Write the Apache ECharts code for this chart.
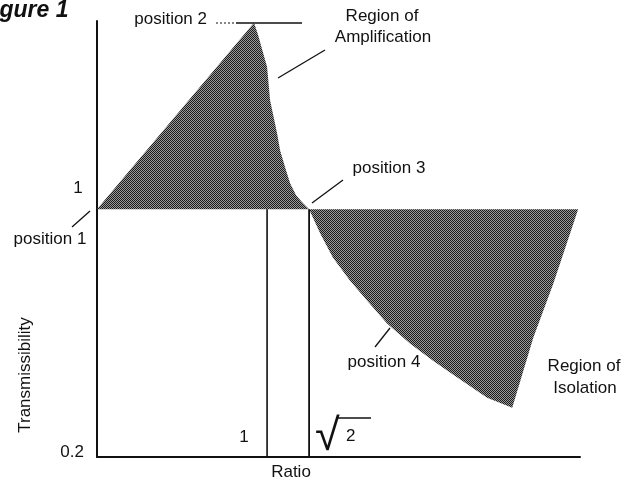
<!DOCTYPE html>
<html>
<head>
<meta charset="utf-8">
<script src="https://cdn.jsdelivr.net/npm/echarts@6/dist/echarts.min.js"></script>
<style>html,body{margin:0;padding:0;background:#fff}#c{width:638px;height:478px}</style>
</head>
<body>
<div id="c"></div>
<script>
// ---- data (log ratio vs log transmissibility) ----
const X_TICKS = [1, 1.414];
const X_TICK_LABELS = ['1', '√2'];
const Y_TICKS = [0.2, 1];
const Y_TICK_LABELS = ['0.2', '1'];
const X_RANGE = [0.246, 13.2];
const Y_RANGE = [0.2, 3.4];
const AMPLIFICATION = [
  [0.246, 1], [0.898, 3.36], [0.928, 3.11], [1.0, 2.52], [1.025, 2.03],
  [1.086, 1.64], [1.113, 1.469], [1.160, 1.315], [1.209, 1.185],
  [1.270, 1.095], [1.335, 1.047], [1.391, 1.013], [1.414, 1]
];
const ISOLATION = [
  [1.414, 1], [13.0, 1], [10.59, 0.617], [8.98, 0.434], [7.55, 0.2753],
  [6.14, 0.294], [4.80, 0.335], [3.93, 0.374], [3.25, 0.418], [2.69, 0.476],
  [2.28, 0.553], [1.98, 0.630], [1.72, 0.731], [1.55, 0.855]
];

// halftone pattern
const pc = document.createElement('canvas');
pc.width = 2; pc.height = 2;
const pctx = pc.getContext('2d');
pctx.fillStyle = '#9a9a9a'; pctx.fillRect(0, 0, 2, 2);
pctx.fillStyle = '#1c1c1c'; pctx.fillRect(0, 0, 1, 1); pctx.fillRect(1, 1, 1, 1);
const pattern = { image: pc, repeat: 'repeat' };

function polygonSeries(points) {
  return {
    type: 'custom',
    data: points,
    silent: true,
    renderItem: function (params, api) {
      if (params.dataIndex !== 0) return null;
      return {
        type: 'polygon',
        shape: { points: points.map(p => api.coord(p)) },
        style: { fill: pattern, stroke: null }
      };
    },
    z: 1
  };
}

const FAMILY = '"Liberation Sans", Arial, sans-serif';
const FONT = '17px ' + FAMILY;
function txt(text, x, y, align, valign, extra, styleExtra) {
  const el = Object.assign({
    type: 'text', x: x, y: y, silent: true,
    style: { text: text, font: FONT, fill: '#111', align: align, verticalAlign: valign,
             textAlign: align, textVerticalAlign: valign }
  }, extra || {});
  Object.assign(el.style, styleExtra || {});
  return el;
}
function seg(x1, y1, x2, y2, w, dash) {
  return { type: 'line', silent: true, shape: { x1, y1, x2, y2 },
           style: { stroke: '#111', lineWidth: w || 1.3, lineDash: dash || null } };
}

const chart = echarts.init(document.getElementById('c'), null, { renderer: 'canvas' });
const axisCommon = {
  axisTick: { show: false }, axisLabel: { show: false }, splitLine: { show: false },
  axisLine: { show: true, onZero: false, lineStyle: { color: '#111', width: 2 } }
};
chart.setOption({
  animation: false,
  backgroundColor: '#fff',
  grid: { left: 97, right: 58, top: 21, bottom: 21 },
  xAxis: Object.assign({ type: 'log', min: X_RANGE[0], max: X_RANGE[1] }, axisCommon),
  yAxis: Object.assign({ type: 'log', min: Y_RANGE[0], max: Y_RANGE[1] }, axisCommon),
  series: [
    polygonSeries(AMPLIFICATION),
    polygonSeries(ISOLATION),
    {
      type: 'line', silent: true, symbol: 'none', z: 3,
      lineStyle: { color: '#111', width: 1.6 },
      data: [[X_TICKS[0], Y_TICKS[0]], [X_TICKS[0], Y_TICKS[1]]]
    },
    {
      type: 'line', silent: true, symbol: 'none', z: 3,
      lineStyle: { color: '#111', width: 1.8 },
      data: [[X_TICKS[1], Y_TICKS[0]], [X_TICKS[1], Y_TICKS[1]]]
    }
  ],
  graphic: [
    txt('Figure 1', -21, 22, 'left', 'bottom', null,
        { font: 'italic bold 23px ' + FAMILY }),
    txt('position 2', 207, 19, 'right', 'middle'),
    seg(216, 23, 236, 23, 1, [2, 2]),
    seg(236, 23, 302, 23, 1.5),
    txt('Region of', 382, 16, 'center', 'middle'),
    txt('Amplification', 383, 37, 'center', 'middle'),
    seg(278, 78, 325, 50),
    txt('position 3', 389, 168, 'center', 'middle'),
    seg(312, 203, 343, 180),
    txt(Y_TICK_LABELS[1], 78, 188, 'center', 'middle'),
    txt('position 1', 50, 239, 'center', 'middle'),
    seg(72, 227, 90, 211),
    txt('position 4', 384, 362, 'center', 'middle'),
    seg(375, 347, 390, 328),
    txt('Region of', 584, 366, 'center', 'middle'),
    txt('Isolation', 585, 388, 'center', 'middle'),
    txt('Transmissibility', 25, 375, 'center', 'middle', { rotation: Math.PI / 2 }),
    txt(Y_TICK_LABELS[0], 84, 452, 'right', 'middle'),
    txt(X_TICK_LABELS[0], 244, 437, 'center', 'middle'),
    txt('{r|' + X_TICK_LABELS[1].charAt(0) + '}{n|' + X_TICK_LABELS[1].slice(1) + '}', 315, 460, 'left', 'bottom', null, {
      rich: {
        r: { font: '45px "Liberation Sans", sans-serif', fill: '#111', verticalAlign: 'bottom', width: 31 },
        n: { font: FONT, fill: '#111', padding: [0, 0, 15, 0], verticalAlign: 'bottom' }
      }
    }),
    seg(336, 418, 371, 418, 1.6),
    txt('Ratio', 291, 464, 'center', 'top')
  ]
});
</script>
</body>
</html>
